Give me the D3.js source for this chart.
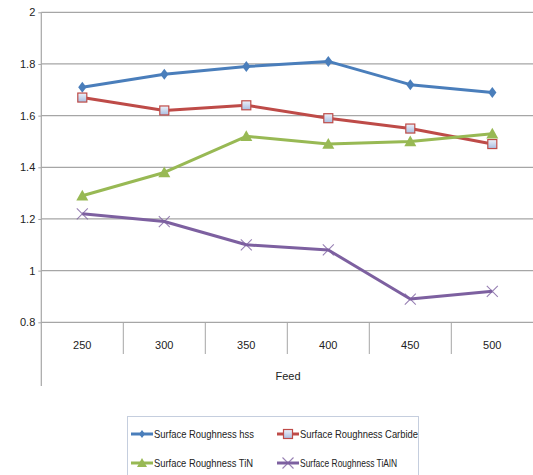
<!DOCTYPE html>
<html><head><meta charset="utf-8">
<script src="https://cdn.jsdelivr.net/npm/d3@7"></script>
<style>body{margin:0;background:#fff;}svg{display:block;}text{font-family:"Liberation Sans",Arial,sans-serif;font-size:11px;fill:#222;}</style>
</head><body>
<svg id="c" width="533" height="475"></svg>
<script>
const categories = ["250","300","350","400","450","500"];
const hss = [1.71,1.76,1.79,1.81,1.72,1.69];
const carbide = [1.67,1.62,1.64,1.59,1.55,1.49];
const tin = [1.29,1.38,1.52,1.49,1.50,1.53];
const tialn = [1.22,1.19,1.10,1.08,0.89,0.92];
const yTicks = [0.8,1,1.2,1.4,1.6,1.8,2];
const seriesNames = ["Surface Roughness hss","Surface Roughness Carbide","Surface Roughness TiN","Surface Roughness TiAlN"];

(function(){
const series = [
  {name:seriesNames[0], values:hss, color:"#4a7ebb", marker:"diamond"},
  {name:seriesNames[1], values:carbide, color:"#be4b48", marker:"square"},
  {name:seriesNames[2], values:tin, color:"#98b954", marker:"triangle"},
  {name:seriesNames[3], values:tialn, color:"#7d60a0", marker:"x"}
];

const svg = d3.select("#c");
const defs = svg.append("defs");
const g1 = defs.append("linearGradient").attr("id","sq").attr("x1",0).attr("y1",0).attr("x2",0).attr("y2",1);
g1.append("stop").attr("offset","0%").attr("stop-color","#eef2fa");
g1.append("stop").attr("offset","100%").attr("stop-color","#a9bde0");

const pL = 41.3, pR = 533.3, pT = 12.3, pB = 322.3;
const x = d3.scaleBand().domain(categories).range([pL,pR]);
const y = d3.scaleLinear().domain([0.8,2]).range([pB,pT]);

svg.append("g").selectAll("line").data(yTicks).join("line")
  .attr("x1",pL).attr("x2",pR).attr("y1",d=>y(d)).attr("y2",d=>y(d))
  .attr("stroke","#a6a6a6").attr("stroke-width",1.2);

const ya = svg.append("g").attr("transform",`translate(${pL},0)`)
  .call(d3.axisLeft(y).tickValues(yTicks).tickSize(3).tickPadding(3).tickFormat(d=>d3.format("")(d)));
ya.select(".domain").remove();
ya.selectAll("line").attr("stroke","#a6a6a6");
ya.selectAll("text").style("font-family",'"Liberation Sans",Arial,sans-serif').style("font-size","11px").attr("fill","#222");
svg.append("line").attr("x1",pL).attr("x2",pL).attr("y1",pT).attr("y2",386).attr("stroke","#a6a6a6").attr("stroke-width",1.2);

svg.append("g").selectAll("line").data(categories.slice(1)).join("line")
  .attr("x1",d=>x(d)).attr("x2",d=>x(d)).attr("y1",pB).attr("y2",354)
  .attr("stroke","#a6a6a6").attr("stroke-width",1);
svg.append("g").selectAll("text").data(categories).join("text")
  .attr("x",d=>x(d)+x.bandwidth()/2).attr("y",349).attr("text-anchor","middle").text(d=>d);
svg.append("text").attr("x",288).attr("y",380).attr("text-anchor","middle").text("Feed");

function drawMarker(sel, type, color, size){
  if(type==="diamond"){
    sel.append("path").attr("d",`M0,${-size}L${size*0.75},0L0,${size}L${-size*0.75},0Z`).attr("fill",color);
  } else if(type==="square"){
    sel.append("rect").attr("x",-4.5).attr("y",-4.5).attr("width",9).attr("height",9)
      .attr("fill","url(#sq)").attr("stroke",color).attr("stroke-width",1.2);
  } else if(type==="triangle"){
    sel.append("path").attr("d",`M0,${-size}L${size},${size*0.8}L${-size},${size*0.8}Z`).attr("fill",color);
  } else {
    sel.append("path").attr("d",`M-5.5,-5.5L5.5,5.5M-5.5,5.5L5.5,-5.5`).attr("stroke",color).attr("stroke-opacity",0.8).attr("stroke-width",1.1).attr("fill","none");
  }
}

const line = d3.line().x((d,i)=>x(categories[i])+x.bandwidth()/2).y(d=>y(d));
series.forEach(s=>{
  svg.append("path").datum(s.values).attr("d",line).attr("fill","none")
    .attr("stroke",s.color).attr("stroke-width",3).attr("stroke-linejoin","round");
  s.values.forEach((v,i)=>{
    const m = svg.append("g").attr("transform",`translate(${x(categories[i])+x.bandwidth()/2},${y(v)})`);
    drawMarker(m, s.marker, s.color, s.marker==="triangle"?6:5.5);
  });
});

svg.append("rect").attr("x",127.5).attr("y",416.5).attr("width",291).attr("height",62)
  .attr("fill","#fff").attr("stroke","#c5cede").attr("stroke-width",1);
const legPos = [[131,434],[277,434],[131,463],[277,463]];
const legW = [100,118,99,97];
series.forEach((s,i)=>{
  const [lx,ly] = legPos[i];
  svg.append("line").attr("x1",lx).attr("x2",lx+22).attr("y1",ly).attr("y2",ly).attr("stroke",s.color).attr("stroke-width",3);
  const m = svg.append("g").attr("transform",`translate(${lx+11},${ly})`);
  drawMarker(m, s.marker, s.color, s.marker==="triangle"?5:4);
  svg.append("text").attr("x",lx+23).attr("y",ly+4).style("font-size","11.5px").attr("textLength",legW[i]).attr("lengthAdjust","spacingAndGlyphs").text(s.name);
});
})();
</script>
</body></html>
